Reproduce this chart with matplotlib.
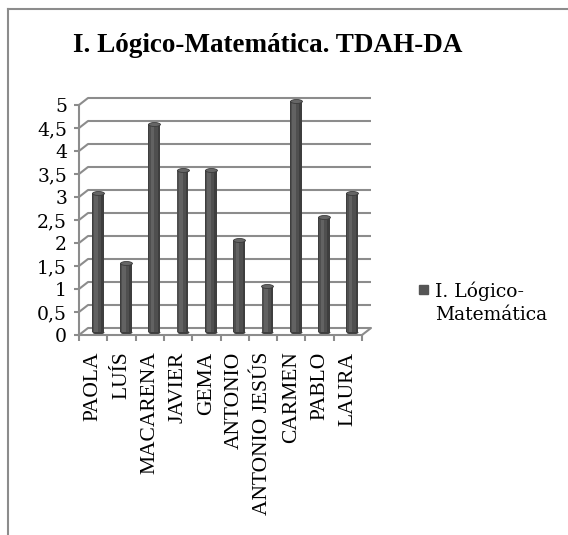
import numpy as np
import matplotlib
matplotlib.use("Agg")
import matplotlib.pyplot as plt
from matplotlib.transforms import ScaledTranslation
from matplotlib.path import Path
from matplotlib.lines import Line2D
from matplotlib.patches import Rectangle

# ---- data ----
title = "I. Lógico-Matemática. TDAH-DA"
series_name = "I. Lógico-Matemática"
categories = ["PAOLA", "LUÍS", "MACARENA", "JAVIER", "GEMA", "ANTONIO",
              "ANTONIO JESÚS", "CARMEN", "PABLO", "LAURA"]
values = [3, 1.5, 4.5, 3.5, 3.5, 2, 1, 5, 2.5, 3]
y_ticks = [0, 0.5, 1, 1.5, 2, 2.5, 3, 3.5, 4, 4.5, 5]
y_tick_labels = ["0", "0,5", "1", "1,5", "2", "2,5", "3", "3,5", "4", "4,5", "5"]

W, H = 568, 535
fig = plt.figure(figsize=(W / 100, H / 100), dpi=100)
fig.patch.set_facecolor("white")

GRID = "#8c8c8c"
LW = 1.5

# chart border (only left and top visible)
fig.add_artist(Line2D([7.5 / W, 7.5 / W], [0, 1 - 8.5 / H], transform=fig.transFigure,
                      color=GRID, lw=1.5))
fig.add_artist(Line2D([7.5 / W, 1], [1 - 8.5 / H, 1 - 8.5 / H], transform=fig.transFigure,
                      color=GRID, lw=1.5))

ax = fig.add_axes([79 / W, 1 - 335 / H, 283 / W, 230 / H])
ax.set_xlim(-0.5, len(categories) - 0.5)
ax.set_ylim(0, 5)
ax.patch.set_visible(False)

# depth offsets (pixels, display: y up)
DX, DY = 9, 7
back = ax.transData + ScaledTranslation(DX / 100, DY / 100, fig.dpi_scale_trans)
mid = ax.transData + ScaledTranslation(DX / 200, DY / 200, fig.dpi_scale_trans)

# back wall gridlines + side-wall diagonals
x0, x1 = -0.5, len(categories) - 0.5
for lv in y_ticks:
    ax.plot([x0, x1], [lv, lv], color=GRID, lw=LW, transform=back, clip_on=False,
            zorder=1, solid_capstyle="butt")
    ax.annotate("", xy=(x0, lv), xytext=(DX * 0.72, DY * 0.72), textcoords="offset points",
                arrowprops=dict(arrowstyle="-", color=GRID, lw=LW, shrinkA=0, shrinkB=0),
                annotation_clip=False, zorder=1)
# floor right diagonal
ax.annotate("", xy=(x1, 0), xytext=(DX * 0.72, DY * 0.72), textcoords="offset points",
            arrowprops=dict(arrowstyle="-", color=GRID, lw=LW, shrinkA=0, shrinkB=0),
            annotation_clip=False, zorder=1)

# cylinder bars
x = np.arange(len(categories))
bw = 0.42
ell = Path.unit_circle()
ell = Path(ell.vertices * np.array([1.0, 0.33]), ell.codes)
msize = bw * 283 / 10 * 0.72  # points
ax.scatter(x, np.zeros(len(x)), marker=ell, s=msize ** 2, color="#3e3e3e",
           transform=mid, zorder=2, clip_on=False, linewidths=0)
ax.bar(x, values, width=bw, color="#3e3e3e", transform=mid, zorder=3, clip_on=False,
       linewidth=0)
ax.bar(x - 0.03, values, width=0.30, color="#4f4f4f", transform=mid, zorder=3,
       clip_on=False, linewidth=0)
ax.bar(x - 0.06, values, width=0.13, color="#626262", transform=mid, zorder=3,
       clip_on=False, linewidth=0)
ax.scatter(x, values, marker=ell, s=msize ** 2, color="#666666", edgecolors="#3a3a3a",
           linewidths=0.6, transform=mid, zorder=4, clip_on=False)

# axes styling
for s in ("top", "right"):
    ax.spines[s].set_visible(False)
for s in ("left", "bottom"):
    ax.spines[s].set_color(GRID)
    ax.spines[s].set_linewidth(LW)
    ax.spines[s].set_zorder(5)

ax.set_yticks(y_ticks)
ax.set_yticklabels(y_tick_labels, fontfamily="DejaVu Serif", fontsize=13.5)
ax.tick_params(axis="y", length=3.6, width=LW, color=GRID, pad=5)

ax.set_xticks(x)
ax.set_xticklabels(categories, rotation=90, fontfamily="Liberation Serif", fontsize=15.5)
ax.set_xticks(np.arange(-0.5, len(categories), 1), minor=True)
ax.tick_params(axis="x", which="major", length=0, pad=12)
ax.tick_params(axis="x", which="minor", length=4.3, width=LW, color=GRID)

# title
fig.text(267.5 / W, 1 - 52 / H, title, ha="center", va="baseline",
         fontfamily="Liberation Serif", fontweight="bold", fontsize=19.5)

# legend
fig.add_artist(Rectangle((419 / W, 1 - 294 / H), 8.5 / W, 9 / H, transform=fig.transFigure,
                         color="#555555"))
parts = ["I. Lógico-", "Matemática"]
fig.text(435 / W, 1 - 297 / H, parts[0], ha="left", va="baseline",
         fontfamily="DejaVu Serif", fontsize=13.5)
fig.text(435 / W, 1 - 320 / H, parts[1], ha="left", va="baseline",
         fontfamily="DejaVu Serif", fontsize=13.5)

fig.savefig("out.png", dpi=100)
